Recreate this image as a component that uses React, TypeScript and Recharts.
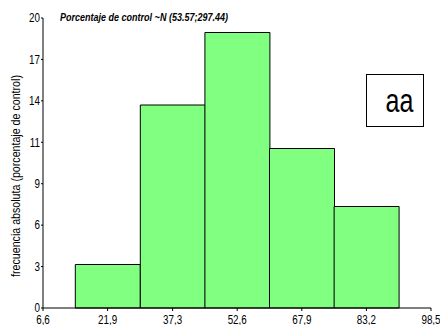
import React from 'react';
import { BarChart, Bar, XAxis, YAxis } from 'recharts';

// Histogram bins (centre of each class) and their absolute frequencies
const binCenters = [21.9, 37.3, 52.6, 67.9, 83.2];
const frequencies = [3, 14, 19, 11, 7];

// Axis ticks
const xTicks = [6.6, 21.9, 37.3, 52.6, 67.9, 83.2, 98.5];
const yTickLabels = ['0', '3', '6', '9', '11', '14', '17', '20'];
const yMax = 20;

const title = 'Porcentaje de control ~N (53.57;297.44)';
const yLabel = 'frecuencia absoluta (porcentaje de control)';
const boxLabel = 'aa';

const data = binCenters.map((x, i) => ({ x, count: frequencies[i] }));
const yTicks = yTickLabels.map((_, i) => (i * yMax) / (yTickLabels.length - 1));

const W = 440;
const H = 325;
const font = "'Liberation Sans', Arial, sans-serif";
// horizontal squeeze that gives Liberation Sans the proportions of a narrow face
const NARROW = 0.82;

const XTick = (props: any) => {
  const { x, y, payload } = props;
  const label = Number(payload.value).toFixed(1).replace('.', ',');
  return (
    <g transform={`translate(${x},${y}) scale(${NARROW},1)`}>
      <text x={0} y={0} dy="0.71em" textAnchor="middle" fontFamily={font} fontSize={12} fill="#000">
        {label}
      </text>
    </g>
  );
};

const YTick = (props: any) => {
  const { x, y, payload } = props;
  const idx = yTicks.findIndex((t) => Math.abs(t - payload.value) < 1e-6);
  return (
    <g transform={`translate(${x},${y}) scale(${NARROW},1)`}>
      <text x={0} y={0} dy="0.355em" textAnchor="end" fontFamily={font} fontSize={12} fill="#000">
        {yTickLabels[idx]}
      </text>
    </g>
  );
};

export default function App() {
  return (
    <div style={{ position: 'absolute', left: 0, top: 0, width: W, height: H, background: '#fff' }}>
      <BarChart
        width={W}
        height={H}
        data={data}
        margin={{ top: 18, right: 9, bottom: 2, left: 8 }}
        barCategoryGap={0}
        barGap={0}
      >
        <XAxis
          type="number"
          dataKey="x"
          domain={[6.6, 98.5]}
          ticks={xTicks}
          interval={0}
          height={15}
          tickSize={3}
          tickMargin={4}
          stroke="#000"
          tick={<XTick />}
        />
        <YAxis
          type="number"
          domain={[0, yMax]}
          ticks={yTicks}
          interval={0}
          width={35}
          tickSize={2}
          tickMargin={1}
          stroke="#000"
          tick={<YTick />}
        />
        <Bar dataKey="count" fill="#80FF80" stroke="#000" strokeWidth={1} isAnimationActive={false} />
      </BarChart>
      <svg width={W} height={H} style={{ position: 'absolute', left: 0, top: 0, pointerEvents: 'none' }}>
        <g transform={`translate(60,21) scale(${NARROW},1)`}>
          <text x={0} y={0} fontFamily={font} fontSize={11} fontWeight="bold" fontStyle="italic" fill="#000">
            {title}
          </text>
        </g>
        <g transform={`translate(20,176) rotate(-90) scale(${NARROW},1)`}>
          <text x={0} y={0} textAnchor="middle" fontFamily={font} fontSize={13} fill="#000">
            {yLabel}
          </text>
        </g>
        <rect x={366.5} y={74.5} width={57} height={52} fill="#fff" stroke="#000" strokeWidth={1} />
        <g transform="translate(399.5,112) scale(0.76,1)">
          <text x={0} y={0} textAnchor="middle" fontFamily={font} fontSize={33} fill="#000">
            {boxLabel}
          </text>
        </g>
      </svg>
    </div>
  );
}
